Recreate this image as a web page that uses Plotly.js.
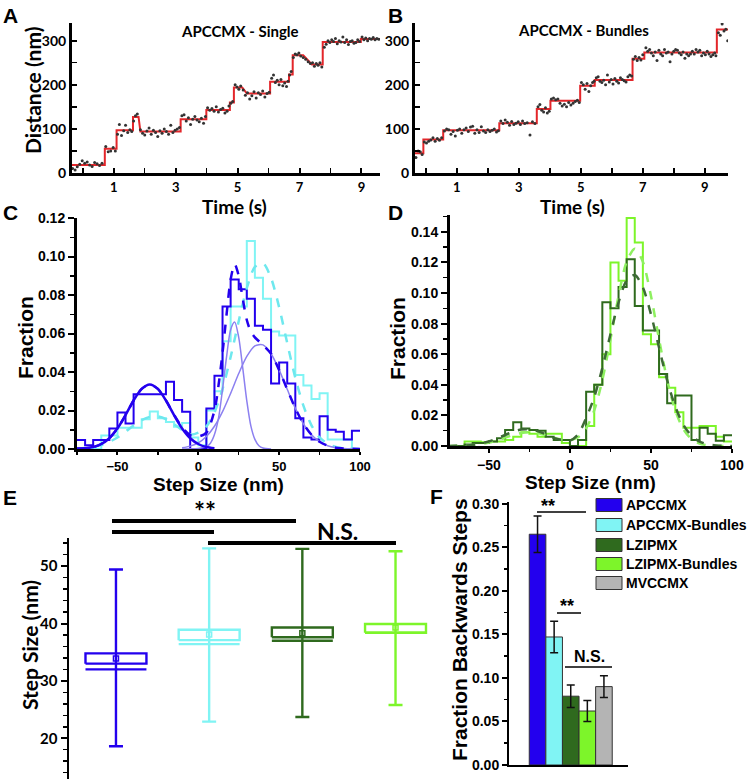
<!DOCTYPE html>
<html><head><meta charset="utf-8">
<script src="https://cdn.plot.ly/plotly-3.0.1.min.js"></script>
<style>html,body{margin:0;padding:0;background:#fff;}#chart{width:747px;height:779px;}</style>
</head><body><div id="chart"></div>
<script>
// ---------- Panel A : APCCMX - Single ----------
const timeA = [
 -0.33,-0.25,-0.18,-0.1,-0.02,0.06,0.14,0.22,0.3,0.38,0.46,0.54,0.62,
 0.74,0.82,0.9,0.98,1.05,
 1.12,1.18,1.25,1.32,1.38,1.45,1.52,1.58,
 1.64,1.7,1.76,
 1.86,1.93,2.0,2.07,2.14,2.21,2.28,2.35,2.42,2.49,2.56,2.63,2.7,2.77,2.84,2.91,2.98,3.05,3.12,
 3.2,3.27,3.34,3.41,3.48,3.55,3.62,3.69,3.76,3.83,3.9,3.96,
 4.03,4.1,4.17,4.24,4.31,4.38,4.45,4.52,4.59,4.66,4.72,
 4.78,4.84,
 4.92,4.98,5.04,5.1,
 5.18,5.25,5.32,5.39,5.46,5.53,5.6,5.67,5.74,5.81,5.88,5.95,6.02,
 6.1,6.16,6.22,6.28,6.34,6.4,6.46,6.52,6.58,6.63,
 6.68,6.73,
 6.8,6.86,6.92,6.98,7.04,
 7.12,7.2,7.28,7.35,
 7.42,7.48,7.54,7.6,7.66,7.72,
 7.8,7.86,7.92,7.98,8.04,8.1,8.16,8.22,8.28,8.34,8.4,8.46,8.52,8.58,8.64,8.7,8.76,8.82,8.88,8.94,
 9.02,9.08,9.14,9.2,9.26,9.32,9.38,9.44,9.5,9.56];
const distA = [
 10,7,14,20,28,22,25,18,15,24,21,17,22,
 60,48,50,58,50,
 88,110,85,96,108,92,98,94,
 118,130,134,
 98,90,86,95,102,88,97,92,83,96,90,100,94,88,108,92,97,100,103,
 130,132,118,125,110,122,128,120,116,124,113,128,
 148,142,146,140,150,138,144,147,136,140,152,
 158,162,
 200,195,190,197,
 188,176,182,168,175,184,170,182,178,186,172,180,183,
 215,222,205,210,200,212,198,204,196,208,
 222,230,
 262,270,268,272,265,
 262,258,252,248,
 250,242,248,244,250,240,
 285,292,300,296,302,298,305,293,300,297,308,296,302,291,298,300,294,296,302,298,
 308,302,306,300,305,303,307,302,305,303];
const fitTimeA = [-0.35,0.71,0.71,1.09,1.09,1.62,1.62,1.8,1.86,3.16,3.16,3.99,3.99,4.75,4.75,4.88,4.88,5.15,5.3,6.05,6.05,6.66,6.66,6.78,6.78,7.12,7.4,7.75,7.75,8.98,8.98,9.6];
const fitDistA = [18,18,55,55,97,97,127,127,94,94,122,122,143,143,160,160,194,194,180,180,207,207,223,223,267,267,246,246,297,297,304,304];

// ---------- Panel B : APCCMX - Bundles ----------
const timeB = [
 -0.32,-0.25,-0.18,-0.12,
 -0.05,0.02,0.09,0.16,0.23,0.3,0.37,0.44,0.51,
 0.6,0.67,0.74,0.81,0.88,0.95,1.02,1.09,1.16,1.23,1.3,1.37,1.44,1.51,1.58,1.65,1.72,1.79,1.86,1.93,2.0,2.07,2.14,2.21,2.28,2.34,
 2.42,2.49,2.56,2.63,2.7,2.77,2.84,2.91,2.98,3.05,3.12,3.19,3.27,3.36,3.44,3.52,
 3.62,3.68,3.74,3.8,3.86,3.92,3.98,
 4.05,4.12,4.19,4.26,4.33,4.4,4.47,4.54,4.61,4.68,4.75,4.82,4.89,4.95,
 5.02,5.08,5.14,5.2,5.26,5.32,5.38,5.43,
 5.5,5.56,5.62,5.68,5.74,5.8,5.86,5.92,5.98,6.04,6.1,6.16,6.22,6.28,6.34,6.4,6.46,6.52,6.58,6.64,
 6.7,6.76,6.82,6.88,6.94,7.0,
 7.1,7.16,7.22,7.28,7.34,7.4,7.46,7.52,7.58,7.64,7.7,7.76,7.82,7.88,7.94,8.0,8.06,8.12,8.18,8.24,8.3,8.36,8.42,8.48,8.54,8.6,8.66,8.72,8.78,8.84,8.9,8.96,9.02,9.08,9.14,9.2,9.26,9.32,9.36,
 9.44,9.5,9.56,9.62,9.68,9.74];
const distB = [
 35,50,48,42,
 70,68,72,75,80,72,78,74,80,
 95,100,98,88,94,84,97,100,90,98,102,94,104,106,90,98,92,105,95,92,98,94,97,100,93,96,
 118,112,120,115,108,117,110,113,116,110,118,112,114,86,116,112,
 150,155,142,138,148,136,140,
 168,170,166,168,158,152,156,150,160,154,158,162,165,160,
 205,200,190,203,185,198,205,208,
 216,218,208,205,210,200,222,206,212,202,214,208,204,216,212,209,206,218,222,220,
 258,264,255,262,256,268,
 284,276,280,272,266,274,255,278,270,266,280,272,274,252,270,276,280,278,272,268,274,260,270,266,270,276,270,280,274,278,266,272,268,276,270,264,268,272,266,
 318,312,338,322,326,300];
const fitTimeB = [-0.35,-0.08,-0.08,0.56,0.56,2.37,2.37,3.58,3.58,4.02,4.02,4.98,4.98,5.45,5.45,6.67,6.67,7.05,7.05,9.39,9.39,9.75];
const fitDistB = [45,45,76,76,97,97,113,113,145,145,164,164,198,198,211,211,259,259,273,273,325,325];

// ---------- Panels C & D : step-size histograms (5 nm bins) ----------
const binEdges = [-75,-70,-65,-60,-55,-50,-45,-40,-35,-30,-25,-20,-15,-10,-5,0,5,10,15,20,25,30,35,40,45,50,55,60,65,70,75,80,85,90,95,100];
const histAPCCMX = [0.0047,0.002,0.0047,0.0047,0.0107,0.019,0.0133,0.0284,0.0284,0.0284,0.0284,0.035,0.0255,0.0194,0,0,0.021,0.038,0.074,0.088,0.083,0.078,0.064,0.062,0.034,0.045,0.034,0.016,0.006,0.005,0.017,0.010,0.009,0.005,0.0095];
const histAPCCMXBundles = [0,0,0,0.007,0.007,0.011,0.011,0.011,0.0155,0.0195,0.016,0.014,0.0115,0.0135,0.006,0.002,0.02,0.03,0.056,0.074,0.074,0.108,0.089,0.078,0.061,0.059,0.059,0.0385,0.033,0.026,0.029,0.005,0.005,0.005,0];
const histLZIPMX = [0,0,0.001,0.002,0.002,0.003,0.005,0.0105,0.0155,0.0115,0.0105,0.01,0.006,0.004,0.004,0,0.004,0.0355,0.04,0.094,0.09,0.104,0.122,0.0915,0.0755,0.0755,0.047,0.028,0.033,0.033,0.004,0.012,0.008,0.0035,0.007];
const histLZIPMXBundles = [0,0,0.003,0.003,0.0025,0.003,0.003,0.004,0.006,0.009,0.008,0.006,0.008,0.008,0.002,0,0,0.013,0.04,0.06,0.12,0.108,0.149,0.133,0.073,0.0665,0.045,0.038,0.022,0.012,0.012,0.013,0.013,0.006,0.003];

// fit curves
const fitX5 = [-75,-70,-65,-60,-55,-50,-45,-40,-35,-30,-25,-20,-15,-10,-5,0,5,10,15,20,25,30,35,40,45,50,55,60,65,70,75,80,85,90,95,100];
const apcSumX = [-75,-70,-65,-60,-55,-50,-45,-40,-35,-30,-25,-20,-15,-10,-5,0,5,10,12.5,15,17.5,20,22.5,25,27.5,30,32.5,35,40,45,50,55,60,65,70,75,80,85,90,95,100];
const apcSumY = [0.0003,0.0004,0.001,0.0026,0.0056,0.0107,0.0176,0.0252,0.0312,0.0335,0.0312,0.0253,0.0178,0.0113,0.0072,0.0065,0.0085,0.02,0.033,0.05,0.07,0.088,0.096,0.09,0.078,0.067,0.061,0.058,0.054,0.0495,0.041,0.031,0.0212,0.0131,0.0074,0.0038,0.0017,0.0007,0.0003,0.0001,0];
const apcBackX = [-75,-70,-65,-60,-55,-50,-45,-40,-35,-30,-25,-20,-15,-10,-5,0,5,10];
const apcBackY = [0.0001,0.00035,0.001,0.0026,0.0056,0.0107,0.0176,0.0252,0.0312,0.0335,0.0312,0.0252,0.0176,0.0107,0.0056,0.0026,0.001,0.00035];
const apcNarrowX = [-10,-5,0,5,7.5,10,12.5,15,17.5,20,22.5,25,27.5,30,32.5,35,37.5,40,45];
const apcNarrowY = [0,0.0001,0.0003,0.0012,0.003,0.0075,0.016,0.031,0.048,0.062,0.066,0.058,0.042,0.025,0.012,0.005,0.0017,0.0005,0];
const apcBroadX = [-10,-5,0,5,10,15,20,25,30,35,40,45,50,55,60,65,70,75,80,85,90,95,100];
const apcBroadY = [0.0006,0.0015,0.0032,0.0065,0.0118,0.0194,0.0289,0.0392,0.0481,0.0536,0.0541,0.0495,0.0411,0.031,0.0212,0.0131,0.0074,0.0038,0.0017,0.0007,0.0003,0.0001,0];
const apcBundleFitY = [0.0002,0.0005,0.001,0.002,0.0037,0.006,0.009,0.0122,0.015,0.0167,0.0169,0.0155,0.0129,0.0099,0.0075,0.0085,0.0117,0.019,0.0312,0.0478,0.0664,0.0835,0.0946,0.0965,0.0888,0.0736,0.055,0.037,0.0225,0.0123,0.006,0.0027,0.0011,0.0004,0.0001,0];
const lzipFitY = [0,0.0001,0.0003,0.0007,0.0016,0.0029,0.0049,0.0072,0.0094,0.0108,0.0109,0.0097,0.0077,0.0053,0.004,0.0035,0.0075,0.0183,0.032,0.051,0.0731,0.0939,0.1082,0.1118,0.1036,0.0861,0.0642,0.0429,0.0258,0.0139,0.0067,0.0029,0.0011,0.0004,0.0001,0];
const lzipBundleFitY = [0,0.0001,0.0003,0.0006,0.0012,0.0022,0.0037,0.0055,0.0072,0.0085,0.009,0.0085,0.0072,0.0055,0.0042,0.0038,0.0057,0.0116,0.0233,0.0431,0.0697,0.0981,0.1204,0.129,0.1204,0.0981,0.0697,0.0431,0.0233,0.011,0.0045,0.0016,0.0005,0.0001,0,0];

// ---------- Panel E : step size box summary ----------
const boxGroups = ['APCCMX','APCCMX-Bundles','LZIPMX','LZIPMX-Bundles'];
const boxLow  = [18.6,22.9,23.7,25.8];
const boxQ1   = [33.0,37.1,37.6,38.4];
const boxQ3   = [34.8,38.9,39.3,39.9];
const boxMed  = [32.0,36.4,37.0,38.4];
const boxMean = [33.9,38.1,38.3,39.3];
const boxHigh = [49.4,53.1,53.0,52.6];

// ---------- Panel F : fraction backwards steps ----------
const barLabels = ['APCCMX','APCCMX-Bundles','LZIPMX','LZIPMX-Bundles','MVCCMX'];
const barValues = [0.265,0.147,0.079,0.062,0.090];
const barErrors = [0.021,0.018,0.013,0.012,0.0125];

// ---------- styling ----------
const BLUE='#2300ee', CYAN='#80f4f4', DGREEN='#2f6a1e', LGREEN='#7df52a', GREY='#b4b4b4', RED='#e3262a', LBLUE='#8c80f0';
const groupColors=[BLUE,CYAN,DGREEN,LGREEN,GREY];
const LATO='Lato, "Open Sans", sans-serif', ARIAL='"Liberation Sans", Arial, sans-serif';
const W=747,H=779;
const PX=v=>v/W, PY=v=>1-v/H;

const traces=[];
// A
traces.push({type:'scatter',mode:'lines',x:fitTimeA,y:fitDistA,xaxis:'x',yaxis:'y',line:{color:RED,width:2}});
traces.push({type:'scatter',mode:'markers',x:timeA,y:distA,xaxis:'x',yaxis:'y',marker:{color:'#333',size:3}});
// B
traces.push({type:'scatter',mode:'lines',x:fitTimeB,y:fitDistB,xaxis:'x2',yaxis:'y2',line:{color:RED,width:2}});
traces.push({type:'scatter',mode:'markers',x:timeB,y:distB,xaxis:'x2',yaxis:'y2',marker:{color:'#333',size:3}});

function stepTrace(vals,color,xa,ya){
  return {type:'scatter',mode:'lines',x:binEdges,y:vals.concat([vals[vals.length-1]]),xaxis:xa,yaxis:ya,line:{shape:'hv',color:color,width:2}};
}
function curve(x,y,color,width,dash,xa,ya){
  return {type:'scatter',mode:'lines',x:x,y:y,xaxis:xa,yaxis:ya,line:{shape:'spline',smoothing:0.8,color:color,width:width,dash:dash}};
}
// C
traces.push(stepTrace(histAPCCMXBundles,CYAN,'x3','y3'));
traces.push(stepTrace(histAPCCMX,BLUE,'x3','y3'));
traces.push(curve(fitX5,apcBundleFitY,'#6ee8ee',2.5,'dash','x3','y3'));
traces.push(curve(apcNarrowX,apcNarrowY,LBLUE,1.5,'solid','x3','y3'));
traces.push(curve(apcBroadX,apcBroadY,LBLUE,1.5,'solid','x3','y3'));
traces.push(curve(apcBackX,apcBackY,BLUE,2.5,'solid','x3','y3'));
traces.push(curve(apcSumX,apcSumY,BLUE,2.5,'dash','x3','y3'));
// D
traces.push(stepTrace(histLZIPMXBundles,LGREEN,'x4','y4'));
traces.push(stepTrace(histLZIPMX,DGREEN,'x4','y4'));
traces.push(curve(fitX5,lzipBundleFitY,'#8ef060',2.5,'dash','x4','y4'));
traces.push(curve(fitX5,lzipFitY,'#3d6a35',2.5,'dash','x4','y4'));

// E
const half=0.327;
boxGroups.forEach((g,i)=>{
  const c=i+1, col=groupColors[i];
  traces.push({type:'scatter',mode:'lines',xaxis:'x5',yaxis:'y5',
    x:[c-half,c+half,c+half,c-half,c-half],y:[boxQ1[i],boxQ1[i],boxQ3[i],boxQ3[i],boxQ1[i]],
    line:{color:col,width:2.4}});
  traces.push({type:'scatter',mode:'lines',xaxis:'x5',yaxis:'y5',
    x:[c-half,c+half],y:[boxMed[i],boxMed[i]],line:{color:col,width:2.4}});
  traces.push({type:'scatter',mode:'markers',xaxis:'x5',yaxis:'y5',x:[c],y:[boxMean[i]],
    marker:{symbol:'square-open',size:5,color:col,line:{width:1.5,color:col}},
    error_y:{type:'data',symmetric:false,array:[boxHigh[i]-boxMean[i]],arrayminus:[boxMean[i]-boxLow[i]],color:col,thickness:2.4,width:7}});
});

// F
traces.push({type:'bar',x:barLabels,y:barValues,xaxis:'x6',yaxis:'y6',width:1,
  marker:{color:groupColors,line:{color:'#333',width:1}},
  error_y:{type:'data',array:barErrors,color:'#111',thickness:1.5,width:4}});

const tf=(fam,size)=>({family:fam,size:size,color:'#000',weight:'bold'});
const baseAx={showgrid:false,zeroline:false,showline:true,linecolor:'#000',ticks:'outside',tickcolor:'#000',fixedrange:true};
const abX={linewidth:3,ticks:'inside',ticklen:5,tickwidth:2,tick0:1,dtick:2,
    minor:{dtick:1,tick0:0,ticks:'inside',ticklen:5,tickwidth:1.5,tickcolor:'#000'},tickfont:tf(LATO,13)};
const abY={linewidth:3,ticks:'inside',ticklen:5,tickwidth:2,dtick:100,range:[0,340],
    minor:{dtick:50,ticks:'inside',ticklen:5,tickwidth:1.5,tickcolor:'#000'},tickfont:tf(LATO,14)};

const layout={
  width:W,height:H,autosize:false,margin:{l:0,r:0,t:0,b:0},
  paper_bgcolor:'#fff',plot_bgcolor:'rgba(0,0,0,0)',showlegend:false,
  xaxis:Object.assign({},baseAx,abX,{domain:[PX(72),PX(380)],range:[-0.35,9.6],anchor:'y'}),
  yaxis:Object.assign({},baseAx,abY,{domain:[PY(173),PY(23)],anchor:'x'}),
  xaxis2:Object.assign({},baseAx,abX,{domain:[PX(415),PX(728)],range:[-0.35,9.75],anchor:'y2'}),
  yaxis2:Object.assign({},baseAx,abY,{domain:[PY(173),PY(23)],anchor:'x2'}),
  xaxis3:Object.assign({},baseAx,{domain:[PX(77),PX(360)],range:[-75,100],anchor:'y3',linewidth:3,ticklen:3,tickwidth:2,tick0:0,dtick:50,
    minor:{dtick:25,ticks:'outside',ticklen:3,tickwidth:1.5,tickcolor:'#000'},tickfont:tf(ARIAL,13)}),
  yaxis3:Object.assign({},baseAx,{domain:[PY(449),PY(218)],range:[0,0.12],anchor:'x3',linewidth:3,ticklen:6,tickwidth:2,dtick:0.02,tickformat:'.2f',
    minor:{dtick:0.01,ticks:'outside',ticklen:4,tickwidth:1.5,tickcolor:'#000'},tickfont:tf(ARIAL,14)}),
  xaxis4:Object.assign({},baseAx,{domain:[PX(450),PX(732)],range:[-74,100],anchor:'y4',linewidth:3,ticklen:4,tickwidth:2,tick0:0,dtick:50,
    minor:{dtick:25,ticks:'outside',ticklen:3,tickwidth:1.5,tickcolor:'#000'},tickfont:tf(ARIAL,14)}),
  yaxis4:Object.assign({},baseAx,{domain:[PY(446),PY(215)],range:[0,0.151],anchor:'x4',linewidth:3,ticklen:6,tickwidth:2,dtick:0.02,tickformat:'.2f',
    minor:{dtick:0.01,ticks:'outside',ticklen:4,tickwidth:1.5,tickcolor:'#000'},tickfont:tf(ARIAL,14)}),
  xaxis5:{domain:[PX(69),PX(430)],range:[0.496,4.37],anchor:'y5',showline:false,showgrid:false,zeroline:false,showticklabels:false,ticks:'',fixedrange:true},
  yaxis5:Object.assign({},baseAx,{domain:[0,PY(538)],range:[12.9,54.9],anchor:'x5',linewidth:2.5,ticklen:6,tickwidth:2,dtick:10,
    minor:{dtick:2,ticks:'outside',ticklen:4,tickwidth:1.5,tickcolor:'#000'},tickfont:tf(LATO,15)}),
  xaxis6:{domain:[PX(509),PX(628)],range:[-1.72,5.45],anchor:'y6',type:'category',showline:true,linecolor:'#000',linewidth:2,showgrid:false,zeroline:false,showticklabels:false,ticks:'',fixedrange:true},
  yaxis6:Object.assign({},baseAx,{domain:[PY(765),PY(502)],range:[0,0.302],anchor:'x6',linewidth:2,ticklen:5,tickwidth:2,dtick:0.05,tickformat:'.2f',
    minor:{dtick:0.025,ticks:'outside',ticklen:3,tickwidth:1.5,tickcolor:'#000'},tickfont:tf(ARIAL,14)}),
  annotations:[],shapes:[]
};

function ann(text,x,y,size,fam,extra){
  layout.annotations.push(Object.assign({text:text,xref:'paper',yref:'paper',x:PX(x),y:PY(y),xanchor:'center',yanchor:'middle',
    showarrow:false,font:{family:fam,size:size,color:'#000',weight:'bold'}},extra||{}));
}
// panel letters
ann('A',10,15,21,ARIAL); ann('B',395,15,21,ARIAL); ann('C',10,212,21,ARIAL);
ann('D',395,212,21,ARIAL); ann('E',10,497,21,ARIAL); ann('F',437,496,21,ARIAL);
// A/B titles
ann('APCCMX - Single',240,31,15,LATO); ann('APCCMX - Bundles',583,30,15,LATO);
ann('Time (s)',234,206,19,LATO); ann('Time (s)',572,206,19,LATO);
ann('Distance (nm)',32,91,21,LATO,{textangle:-90});
// C/D
ann('Fraction',25,338,21,ARIAL,{textangle:-90}); ann('Fraction',397,338,21,ARIAL,{textangle:-90});
ann('Step Size (nm)',218,484,19,ARIAL); ann('Step Size (nm)',590,482,19,ARIAL);
// E
ann('Step Size (nm)',29,645,21,LATO,{textangle:-90});
ann('**',205,511,26,LATO); ann('N.S.',337,531,23,LATO);
// F
ann('Fraction Backwards Steps',459,630,21,ARIAL,{textangle:-90});
ann('**',548,506,18,ARIAL); ann('**',567,606,18,ARIAL); ann('N.S.',589,656,16,ARIAL);

function hline(x0,x1,y,w){
  layout.shapes.push({type:'line',xref:'paper',yref:'paper',x0:PX(x0),x1:PX(x1),y0:PY(y),y1:PY(y),line:{color:'#000',width:w}});
}
hline(112,296,521,4); hline(112,214,532,4); hline(208,396,543,4);
hline(537,586,512,1.5); hline(557,581,613,1.5); hline(565,612,667,1.5);

// custom legend for F
const legRows=[505,525,545,564,583];
barLabels.forEach((lab,i)=>{
  layout.shapes.push({type:'rect',xref:'paper',yref:'paper',x0:PX(596),x1:PX(622),y0:PY(legRows[i]+6.5),y1:PY(legRows[i]-6.5),
    fillcolor:groupColors[i],line:{color:'#333',width:1}});
  ann(lab,624,legRows[i],14,ARIAL,{xanchor:'left'});
});

Plotly.newPlot('chart',traces,layout,{staticPlot:true,displayModeBar:false});
</script></body></html>
